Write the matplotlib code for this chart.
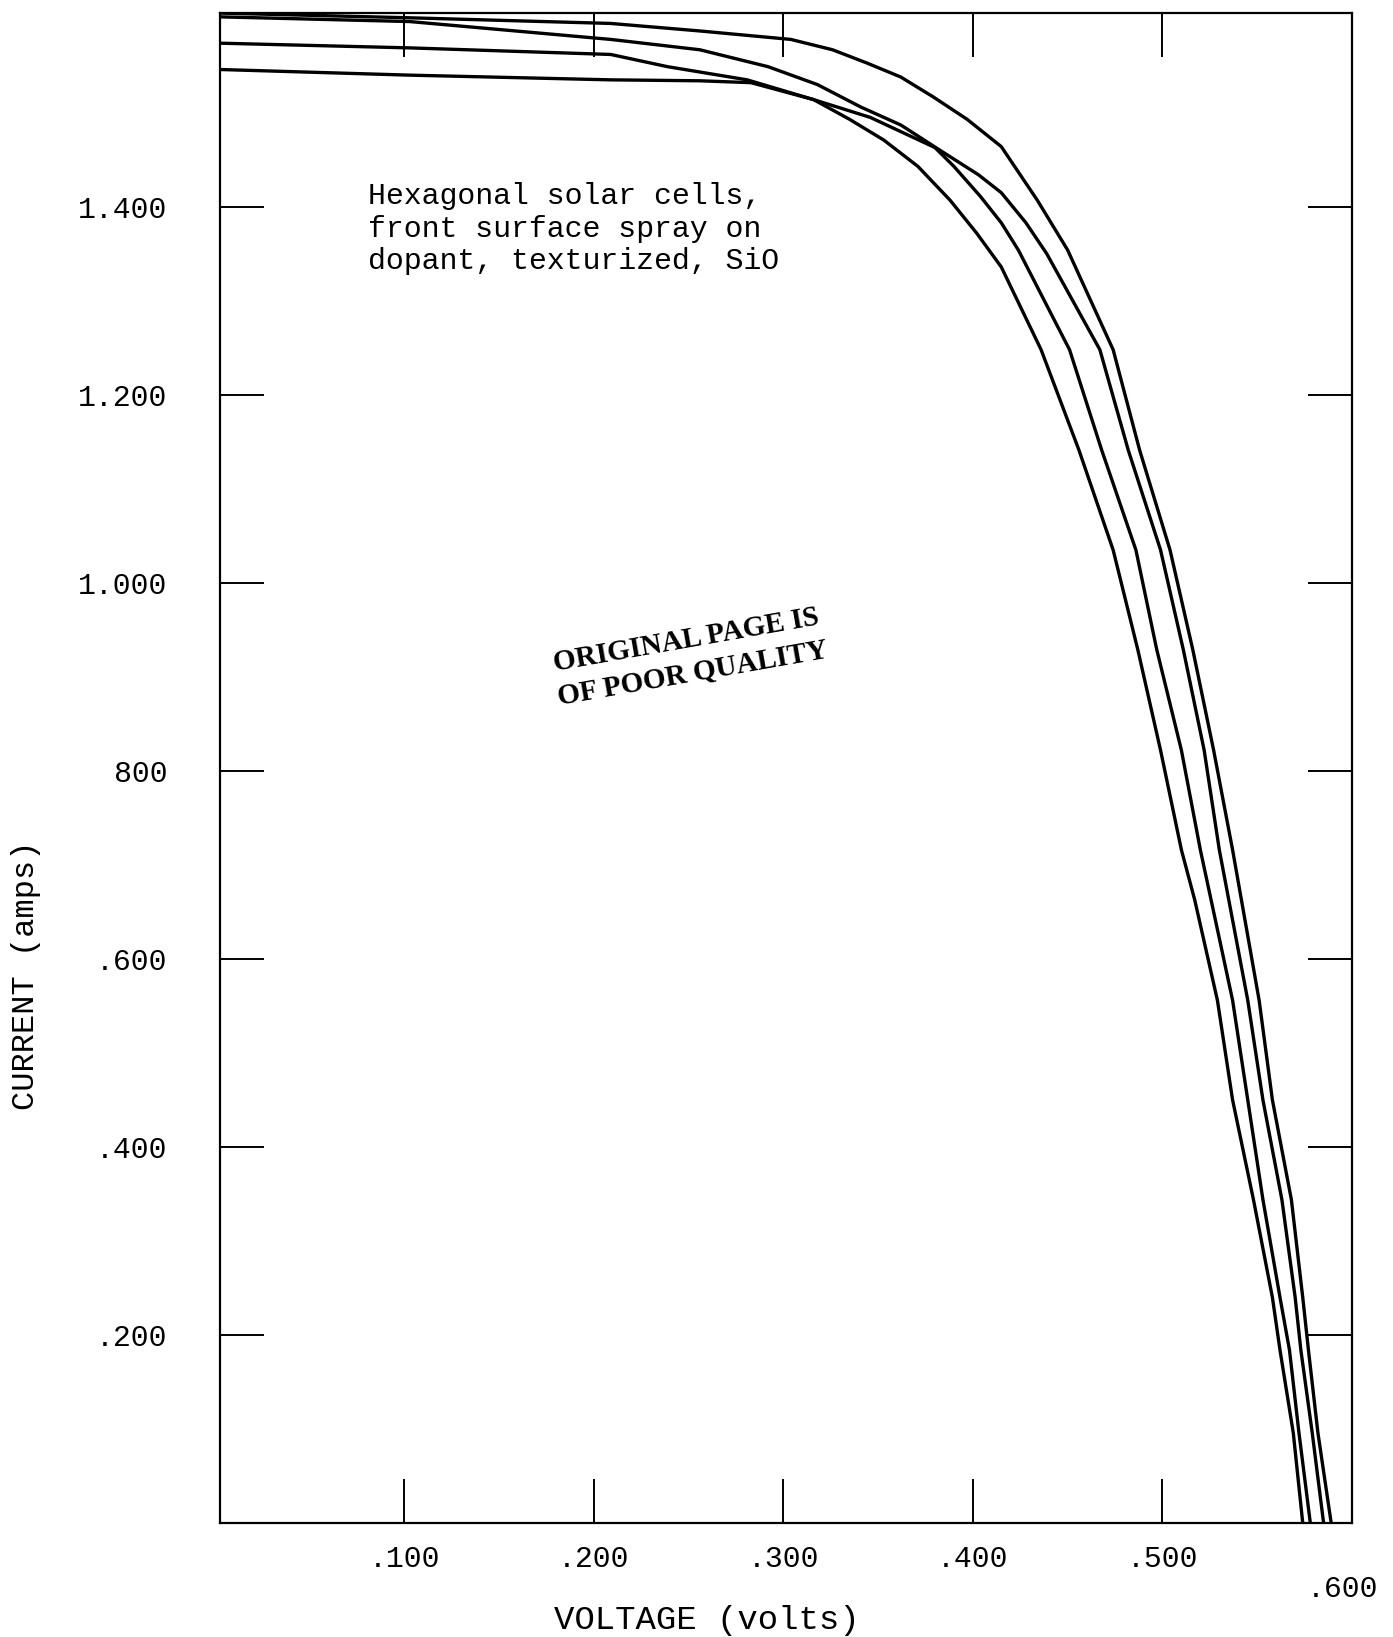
import matplotlib
matplotlib.use('Agg')
import matplotlib.pyplot as plt
import matplotlib.transforms as mtransforms

# I-V curves (volts, amps), outermost curve first
v_a = [0.003, 0.103, 0.209, 0.256, 0.304, 0.326, 0.344, 0.362, 0.379, 0.397,
       0.415, 0.434, 0.450, 0.474, 0.488, 0.504, 0.516, 0.527, 0.537, 0.551,
       0.558, 0.568, 0.574, 0.577, 0.582, 0.589]
i_a = [1.606, 1.601, 1.595, 1.587, 1.578, 1.567, 1.553, 1.538, 1.517, 1.493,
       1.464, 1.407, 1.354, 1.248, 1.141, 1.035, 0.929, 0.822, 0.716, 0.556,
       0.450, 0.344, 0.240, 0.184, 0.096, 0.0]

v_b = [0.003, 0.103, 0.209, 0.256, 0.292, 0.318, 0.341, 0.362, 0.382, 0.403,
       0.415, 0.428, 0.439, 0.467, 0.482, 0.499, 0.511, 0.522, 0.530, 0.545,
       0.553, 0.563, 0.570, 0.573, 0.579, 0.585]
i_b = [1.602, 1.597, 1.578, 1.567, 1.549, 1.530, 1.506, 1.487, 1.461, 1.434,
       1.415, 1.383, 1.350, 1.248, 1.141, 1.035, 0.929, 0.822, 0.716, 0.556,
       0.450, 0.344, 0.240, 0.184, 0.096, 0.0]

v_c = [0.003, 0.103, 0.209, 0.239, 0.281, 0.316, 0.346, 0.380, 0.390, 0.404,
       0.415, 0.424, 0.451, 0.468, 0.486, 0.497, 0.510, 0.520, 0.537, 0.545,
       0.553, 0.562, 0.567, 0.572, 0.578]
i_c = [1.574, 1.569, 1.562, 1.549, 1.535, 1.514, 1.495, 1.463, 1.443, 1.411,
       1.383, 1.354, 1.248, 1.141, 1.035, 0.929, 0.822, 0.716, 0.556, 0.450,
       0.344, 0.240, 0.184, 0.096, 0.0]

v_d = [0.003, 0.103, 0.209, 0.256, 0.283, 0.316, 0.335, 0.353, 0.371, 0.388,
       0.402, 0.415, 0.436, 0.456, 0.474, 0.487, 0.499, 0.510, 0.517, 0.529,
       0.537, 0.548, 0.558, 0.562, 0.569, 0.574]
i_d = [1.546, 1.540, 1.535, 1.534, 1.532, 1.514, 1.493, 1.471, 1.443, 1.407,
       1.372, 1.336, 1.248, 1.141, 1.035, 0.929, 0.822, 0.716, 0.663, 0.556,
       0.450, 0.344, 0.240, 0.184, 0.096, 0.0]

xticks = [0.1, 0.2, 0.3, 0.4, 0.5, 0.6]
xtick_labels = ['.100', '.200', '.300', '.400', '.500', '.600']
yticks = [0.2, 0.4, 0.6, 0.8, 1.0, 1.2, 1.4]
ytick_labels = ['.200', '.400', '.600', '800', '1.000', '1.200', '1.400']

note = "Hexagonal solar cells,\nfront surface spray on\ndopant, texturized, SiO"
stamp = "ORIGINAL PAGE IS\nOF POOR QUALITY"

plt.rcParams['font.family'] = ['Liberation Mono', 'DejaVu Sans Mono']

fig = plt.figure(figsize=(13.93, 16.37), dpi=100)
ax = fig.add_axes([0.158, 0.0696, 0.8126, 0.9224])

for v, i in [(v_a, i_a), (v_b, i_b), (v_c, i_c), (v_d, i_d)]:
    ax.plot(v, i, color='black', lw=2.4, solid_joinstyle='round')

ax.set_xlim(0.003, 0.600)
ax.set_ylim(0, 1.606)
ax.set_xticks(xticks)
ax.set_xticklabels(xtick_labels)
ax.set_yticks(yticks)
ax.set_yticklabels(ytick_labels)

for s in ax.spines.values():
    s.set_linewidth(1.6)
ax.tick_params(direction='in', length=32, width=1.4, top=True, right=True,
               labelsize=21.5, colors='black')
ax.tick_params(axis='y', pad=38)
ax.tick_params(axis='x', pad=16)

# the last voltage label sits lower on the page
off = mtransforms.ScaledTranslation(-0.1, -0.3, fig.dpi_scale_trans)
lab = ax.get_xticklabels()[-1]
lab.set_transform(lab.get_transform() + off)

ax.text(0.081, 1.426, note, ha='left', va='top', fontsize=21.5, linespacing=1.2)
ax.text(0.2505, 0.921, stamp, ha='center', va='center', rotation=10,
        fontsize=21, fontweight='bold', family='Liberation Serif',
        linespacing=1.3, rotation_mode='anchor')

fig.text(0.0187, 0.404, 'CURRENT (amps)', rotation=90, ha='center', va='center',
         fontsize=23)
fig.text(0.5075, 0.0098, 'VOLTAGE (volts)', ha='center', va='center', fontsize=24.5)

fig.savefig('out.png', dpi=100, facecolor='white')
